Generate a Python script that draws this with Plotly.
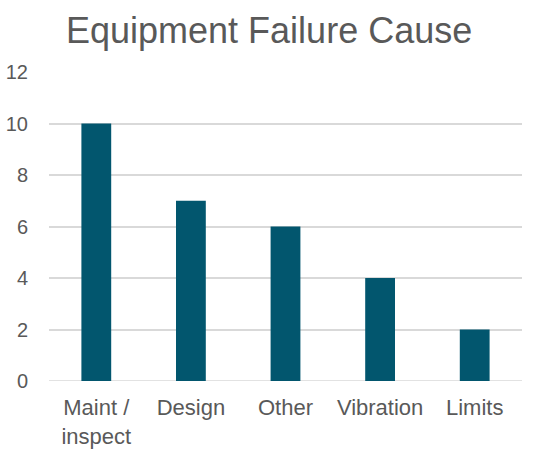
import plotly.graph_objects as go

categories = ["Maint /<br>inspect", "Design", "Other", "Vibration", "Limits"]
values = [10, 7, 6, 4, 2]
y_ticks = [0, 2, 4, 6, 8, 10, 12]

TEXT = "#595959"
BAR = "#02566E"
GRID = "#D9D9D9"
FONT = "Liberation Sans, Arial, sans-serif"

fig = go.Figure(go.Bar(x=categories, y=values, marker=dict(color=BAR, line=dict(width=0)), width=0.315))

fig.update_layout(
    width=547, height=451,
    margin=dict(l=49, r=25, t=72, b=70, autoexpand=False),
    paper_bgcolor="white", plot_bgcolor="white",
    font=dict(family=FONT, color=TEXT, size=20),
    title=dict(text="Equipment Failure Cause", x=0.492, xanchor="center", y=0.932, yanchor="middle",
               font=dict(size=36, color=TEXT, family=FONT)),
    showlegend=False,
)
fig.update_yaxes(range=[0, 12], tickvals=y_ticks, showgrid=True, gridcolor=GRID, gridwidth=1.5,
                 zeroline=False, showline=False, ticks="", ticklabelstandoff=20, automargin=False,
                 tickfont=dict(size=20, color=TEXT))
fig.update_xaxes(showgrid=False, showline=False, ticks="", tickfont=dict(size=22, color=TEXT),
                 ticklabelstandoff=11, automargin=False)
fig.add_shape(type="line", xref="paper", yref="y", x0=0, x1=1, y0=0, y1=0, line=dict(color=GRID, width=1.5), layer="below")

fig.write_html("out.html", config={"displayModeBar": False},
               post_script="document.body.style.margin='0px';document.body.style.overflow='hidden';")
